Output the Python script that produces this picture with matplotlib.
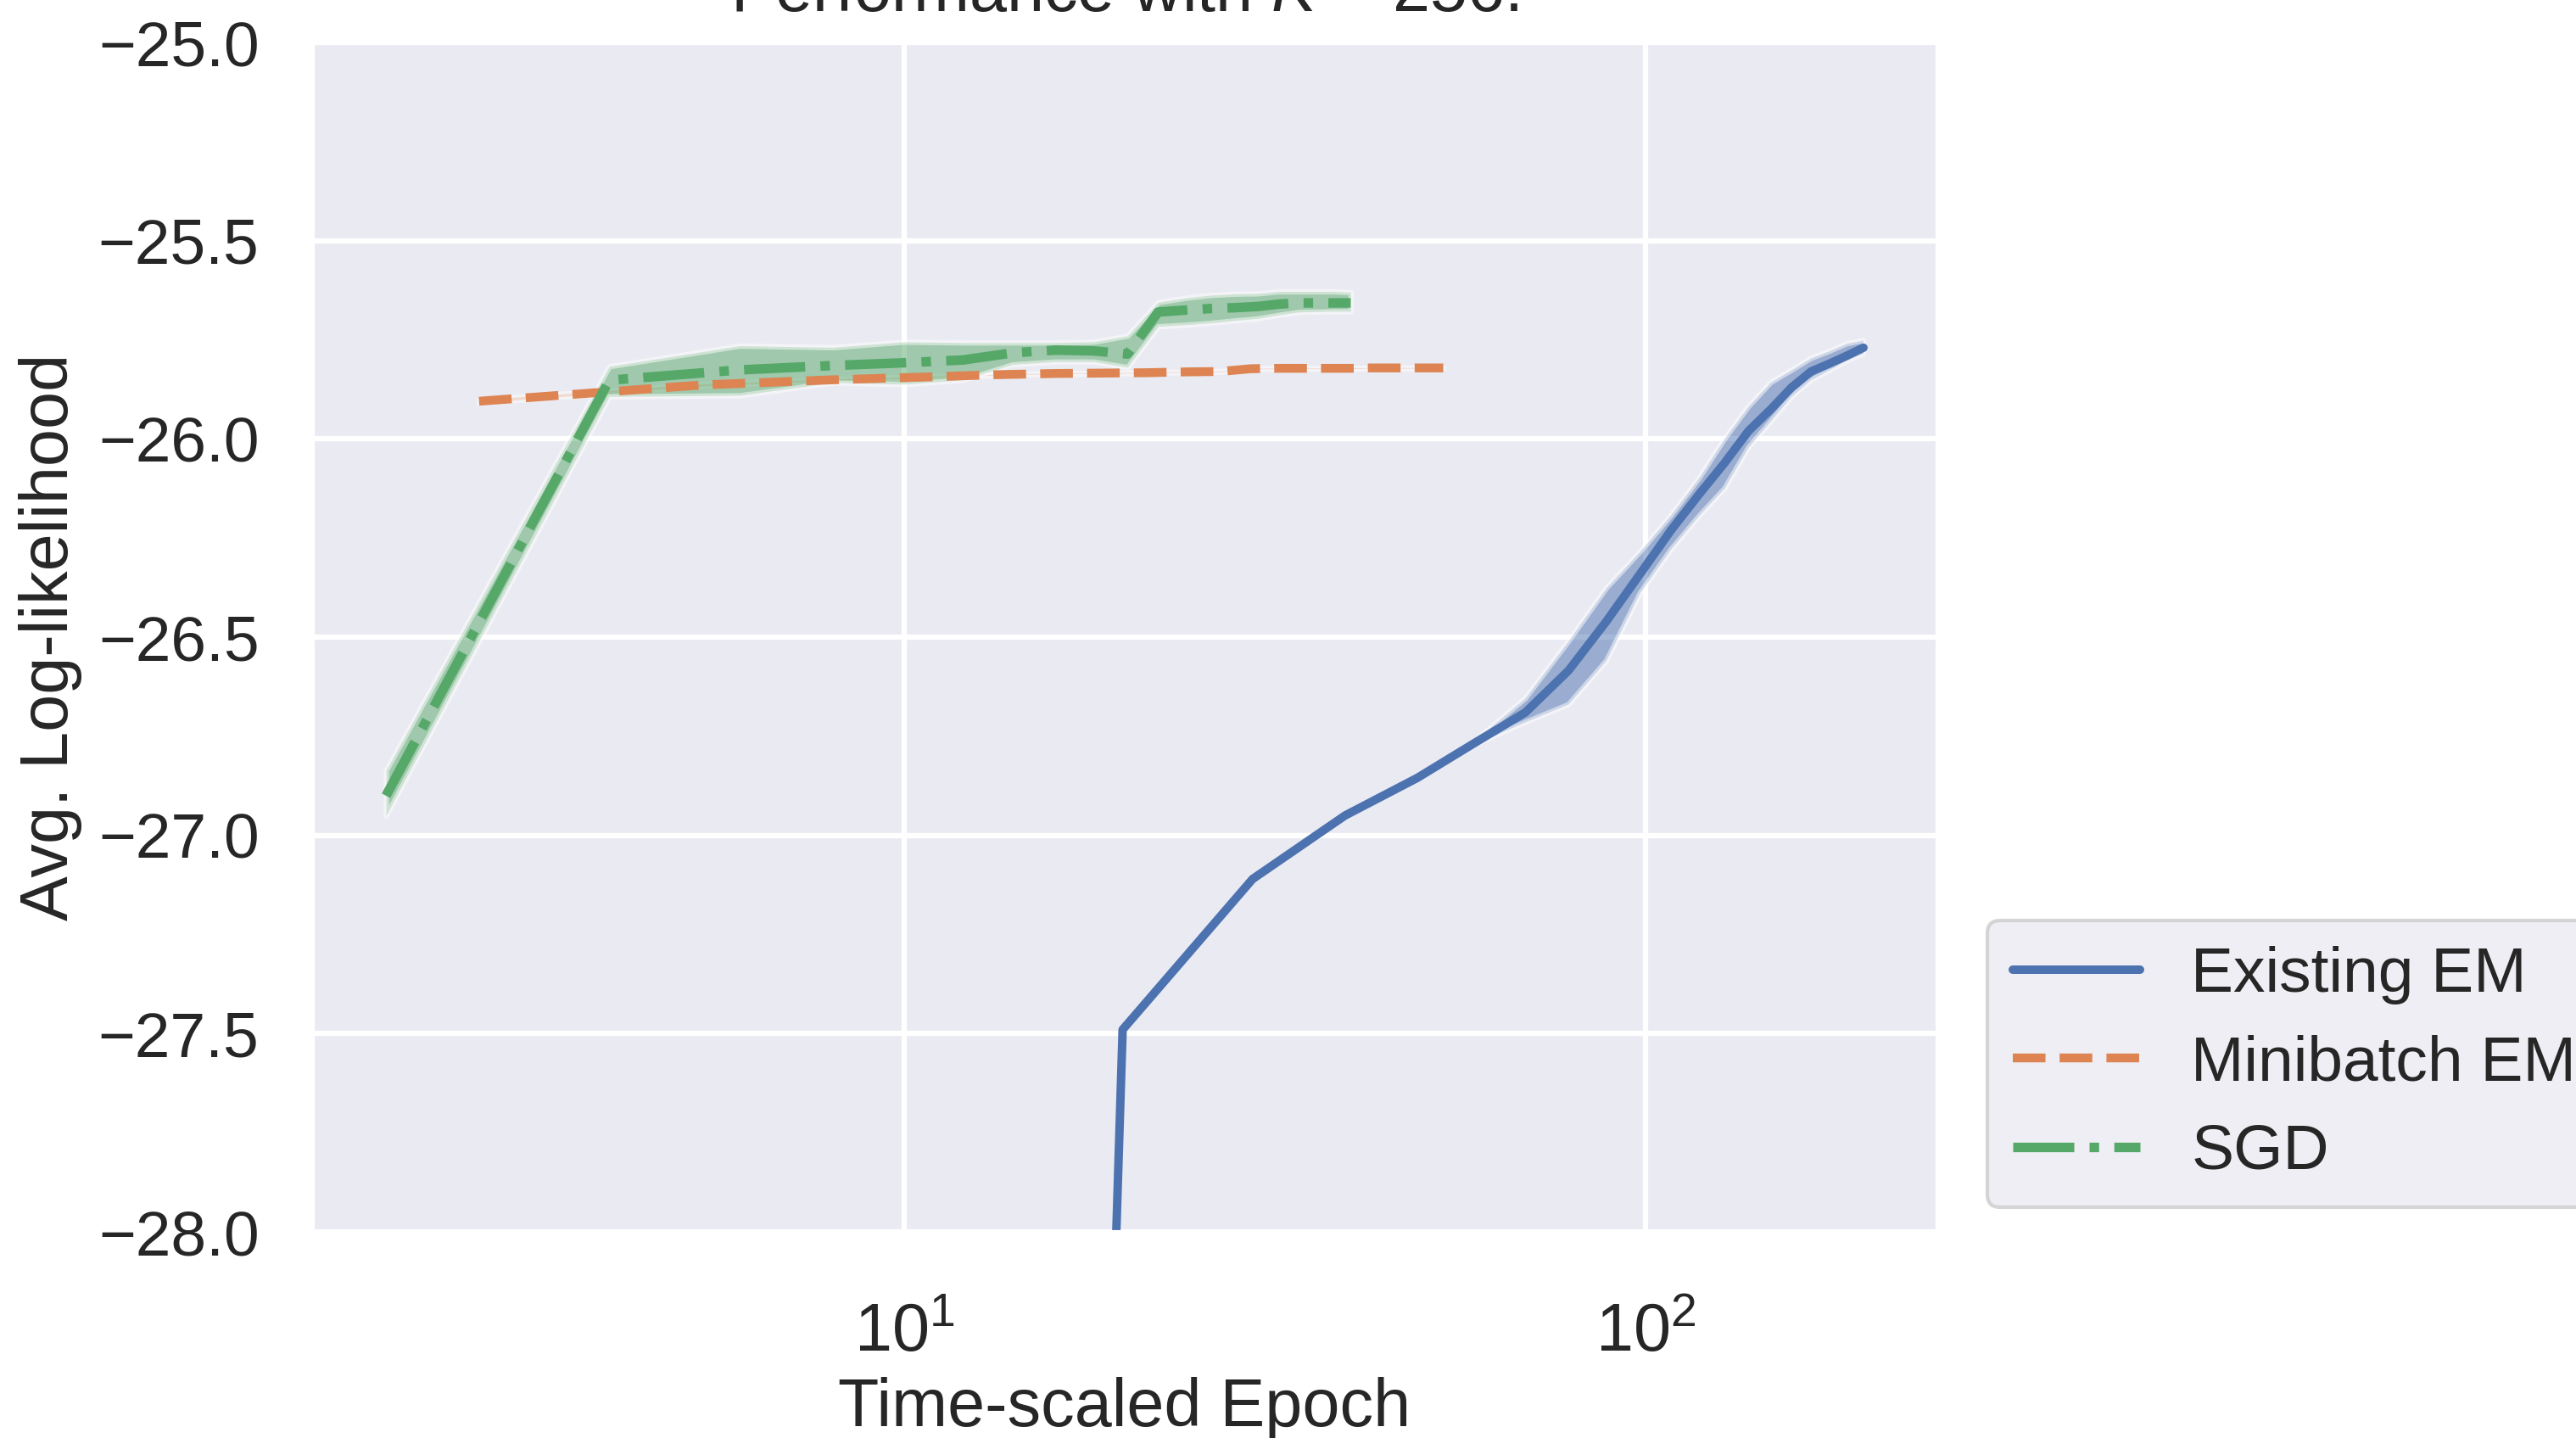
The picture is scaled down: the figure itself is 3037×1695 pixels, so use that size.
import matplotlib
matplotlib.use("Agg")
import matplotlib.pyplot as plt
import seaborn as sns

# Existing EM (time-scaled epochs, mean and band)
em_x = [9.8, 19.7, 29.5, 39.3, 49.2, 59.0, 68.8, 78.7, 88.5, 98.3,
        108.2, 118.0, 127.8, 137.6, 147.5, 157.3, 167.1, 177.0, 186.8, 196.6]
em_mean = [-45.7, -27.49, -27.11, -26.95, -26.855, -26.765, -26.69, -26.584, -26.46, -26.34,
           -26.23, -26.14, -26.06, -25.98, -25.925, -25.87, -25.83, -25.81, -25.79, -25.77]
em_upper = [-45.7, -27.49, -27.11, -26.95, -26.855, -26.76, -26.655, -26.511, -26.377, -26.285,
            -26.193, -26.10, -26.00, -25.919, -25.858, -25.827, -25.797, -25.779, -25.760, -25.752]
em_lower = [-45.7, -27.49, -27.11, -26.95, -26.855, -26.77, -26.715, -26.670, -26.560, -26.389,
            -26.279, -26.195, -26.125, -26.022, -25.956, -25.894, -25.852, -25.827, -25.803, -25.785]

# Minibatch EM
mb_x = [2.67, 5.33, 8.0, 10.67, 13.33, 16.0, 18.67, 21.33, 24.0, 26.67,
        29.33, 32.0, 34.67, 37.33, 40.0, 42.67, 45.33, 48.0, 50.67, 53.33]
mb_mean = [-25.905, -25.864, -25.851, -25.844, -25.838, -25.835, -25.834, -25.833, -25.831, -25.830,
           -25.823, -25.822, -25.822, -25.822, -25.822, -25.821, -25.821, -25.821, -25.821, -25.821]
mb_upper = [-25.901, -25.861, -25.849, -25.842, -25.837, -25.834, -25.833, -25.832, -25.830, -25.829,
            -25.822, -25.821, -25.821, -25.821, -25.821, -25.820, -25.820, -25.820, -25.820, -25.820]
mb_lower = [-25.909, -25.867, -25.853, -25.846, -25.839, -25.836, -25.835, -25.834, -25.832, -25.831,
            -25.824, -25.823, -25.823, -25.823, -25.823, -25.822, -25.822, -25.822, -25.822, -25.822]

# SGD
sgd_x = [2, 4, 6, 8, 10, 12, 14, 16, 18, 20, 22, 24, 26, 28, 30, 32, 34, 36, 38, 40]
sgd_mean = [-26.90, -25.852, -25.826, -25.815, -25.808, -25.801, -25.783, -25.776, -25.778, -25.786,
            -25.680, -25.675, -25.671, -25.669, -25.666, -25.660, -25.657, -25.657, -25.657, -25.657]
sgd_upper = [-26.836, -25.817, -25.765, -25.769, -25.755, -25.757, -25.757, -25.757, -25.755, -25.740,
             -25.655, -25.644, -25.637, -25.634, -25.633, -25.628, -25.628, -25.628, -25.628, -25.630]
sgd_lower = [-26.95, -25.893, -25.890, -25.858, -25.862, -25.851, -25.812, -25.805, -25.805, -25.819,
             -25.716, -25.712, -25.707, -25.701, -25.696, -25.687, -25.680, -25.679, -25.678, -25.678]

sns.set_theme(style="darkgrid")
plt.rcParams["font.family"] = ["Liberation Sans", "DejaVu Sans"]
plt.rcParams["mathtext.fontset"] = "custom"
plt.rcParams["mathtext.rm"] = "Liberation Sans"
plt.rcParams["mathtext.it"] = "Liberation Sans:italic"
plt.rcParams["grid.linewidth"] = 1.5

pal = sns.color_palette("deep")

fig = plt.figure(figsize=(3037 / 300, 1695 / 300), dpi=300)
ax = fig.add_axes([368 / 3037, 1 - 1452 / 1695, 1916 / 3037, 1402 / 1695])

series = [
    ("Existing EM", em_x, em_mean, em_lower, em_upper, "-", pal[0], 2.4),
    ("Minibatch EM", mb_x, mb_mean, mb_lower, mb_upper, "--", pal[1], 2.5),
    ("SGD", sgd_x, sgd_mean, sgd_lower, sgd_upper, "-.", pal[2], 2.7),
]
for label, x, m, lo, hi, ls, c, lw in series:
    ax.fill_between(x, lo, hi, facecolor=c, edgecolor="white", linewidth=1.5, alpha=0.5)
    ax.plot(x, m, ls, color=c, lw=lw, label=label)

ax.set_xscale("log")
ax.set_ylim(-28, -25)
ax.tick_params(axis="y", labelsize=18, pad=15, length=0)
ax.tick_params(axis="x", labelsize=19, pad=20, length=0)
ax.set_xlabel("Time-scaled Epoch", fontsize=19, labelpad=3)
ax.set_ylabel("Avg. Log-likelihood", fontsize=19, labelpad=4.5)
ax.set_title("Performance with $K$ = 256.", fontsize=19, pad=9)

ax.legend(loc="lower left", bbox_to_anchor=(1.031, 0.0207), borderaxespad=0,
          fontsize=18, labelspacing=0.47)

fig.savefig("out.png", dpi=300)
